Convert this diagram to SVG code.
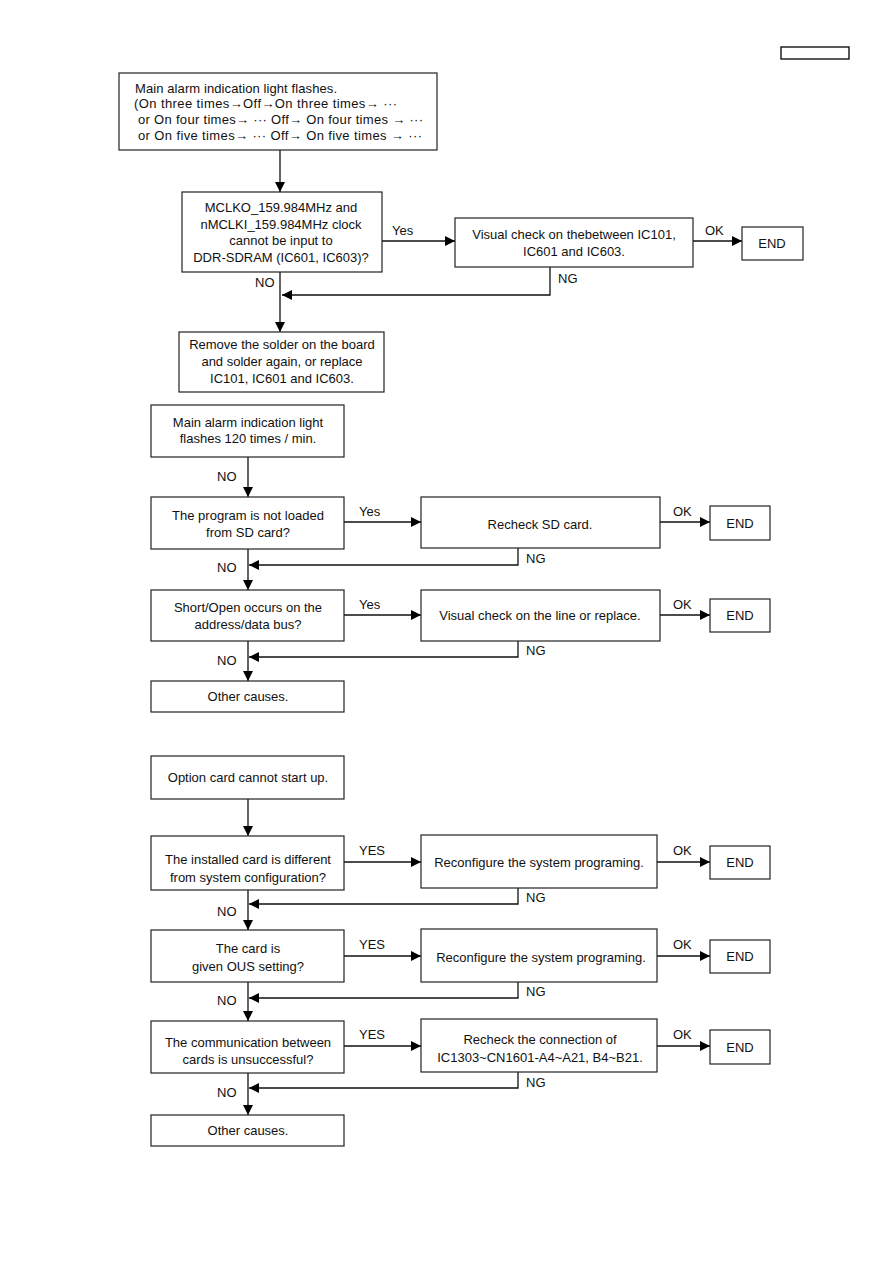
<svg xmlns="http://www.w3.org/2000/svg" width="893" height="1263" viewBox="0 0 893 1263">
<defs>
<marker id="ah" viewBox="0 0 10 10" refX="10" refY="5" markerWidth="10" markerHeight="10" markerUnits="userSpaceOnUse" orient="auto">
<path d="M0,0 L10,5 L0,10 z" fill="#000"/>
</marker>
</defs>
<style>
.b{fill:#fff;stroke:#222;stroke-width:1.2}
.t{font-family:"Liberation Sans",Arial,sans-serif;font-size:13px;fill:#111}
.m{text-anchor:middle}
.c{fill:none;stroke:#111;stroke-width:1.3}
.a{marker-end:url(#ah)}
</style>
<rect width="893" height="1263" fill="#fff"/>
<rect x="781" y="47" width="68" height="12" fill="none" stroke="#000" stroke-width="1.3"/>

<g id="connectors">
<path class="c a" d="M280,150 V192"/>
<path class="c a" d="M382,241 H455"/>
<path class="c a" d="M693,241 H742"/>
<path class="c a" d="M550,267 V295 H282"/>
<path class="c a" d="M280,272 V332"/>

<path class="c a" d="M248,457 V497"/>
<path class="c a" d="M344,522 H421"/>
<path class="c a" d="M660,522 H710"/>
<path class="c a" d="M518,548 V565 H249"/>
<path class="c a" d="M248,549 V590"/>
<path class="c a" d="M344,615 H421"/>
<path class="c a" d="M660,615 H710"/>
<path class="c a" d="M518,641 V657 H249"/>
<path class="c a" d="M248,641 V681"/>

<path class="c a" d="M248,799 V836"/>
<path class="c a" d="M344,862 H421"/>
<path class="c a" d="M657,862 H710"/>
<path class="c a" d="M518,888 V904 H249"/>
<path class="c a" d="M248,890 V930"/>
<path class="c a" d="M344,956 H421"/>
<path class="c a" d="M657,956 H710"/>
<path class="c a" d="M518,982 V998 H249"/>
<path class="c a" d="M248,982 V1021"/>
<path class="c a" d="M344,1046 H421"/>
<path class="c a" d="M657,1046 H710"/>
<path class="c a" d="M518,1072 V1088 H249"/>
<path class="c a" d="M248,1073 V1115"/>

<text class="t" x="392" y="235">Yes</text>
<text class="t" x="705" y="235">OK</text>
<text class="t" x="558" y="283">NG</text>
<text class="t" x="255" y="287">NO</text>

<text class="t" x="217" y="481">NO</text>
<text class="t" x="359" y="516">Yes</text>
<text class="t" x="673" y="516">OK</text>
<text class="t" x="526" y="563">NG</text>
<text class="t" x="217" y="572">NO</text>
<text class="t" x="359" y="609">Yes</text>
<text class="t" x="673" y="609">OK</text>
<text class="t" x="526" y="655">NG</text>
<text class="t" x="217" y="665">NO</text>

<text class="t" x="359" y="855">YES</text>
<text class="t" x="673" y="855">OK</text>
<text class="t" x="526" y="902">NG</text>
<text class="t" x="217" y="916">NO</text>
<text class="t" x="359" y="949">YES</text>
<text class="t" x="673" y="949">OK</text>
<text class="t" x="526" y="996">NG</text>
<text class="t" x="217" y="1005">NO</text>
<text class="t" x="359" y="1039">YES</text>
<text class="t" x="673" y="1039">OK</text>
<text class="t" x="526" y="1087">NG</text>
<text class="t" x="217" y="1097">NO</text>
</g>

<g id="n1"><rect class="b" x="119" y="73" width="318" height="77"/>
<text class="t" x="135" y="93" textLength="202" lengthAdjust="spacing">Main alarm indication light flashes.</text>
<text class="t" x="134" y="108" textLength="263" lengthAdjust="spacing">(On three times→Off→On three times→ ···</text>
<text class="t" x="138" y="124" textLength="285" lengthAdjust="spacing">or On four times→ ··· Off→ On four times → ···</text>
<text class="t" x="138" y="140" textLength="284" lengthAdjust="spacing">or On five times→ ··· Off→ On five times → ···</text></g>

<g id="n2"><rect class="b" x="182" y="192" width="200" height="80"/>
<text class="t m" x="281" y="212">MCLKO_159.984MHz and</text>
<text class="t m" x="281" y="229">nMCLKI_159.984MHz clock</text>
<text class="t m" x="281" y="245">cannot be input to</text>
<text class="t m" x="281" y="262">DDR-SDRAM (IC601, IC603)?</text></g>

<g id="n3"><rect class="b" x="455" y="218" width="238" height="49"/>
<text class="t m" x="574" y="239">Visual check on thebetween IC101,</text>
<text class="t m" x="574" y="256">IC601 and IC603.</text></g>

<g id="n4"><rect class="b" x="742" y="227" width="61" height="33"/>
<text class="t m" x="772" y="248">END</text></g>

<g id="n5"><rect class="b" x="179" y="332" width="205" height="60"/>
<text class="t m" x="282" y="349">Remove the solder on the board</text>
<text class="t m" x="282" y="366">and solder again, or replace</text>
<text class="t m" x="282" y="383">IC101, IC601 and IC603.</text></g>

<g id="n6"><rect class="b" x="151" y="405" width="193" height="52"/>
<text class="t m" x="248" y="427">Main alarm indication light</text>
<text class="t m" x="248" y="443">flashes 120 times / min.</text></g>

<g id="n7"><rect class="b" x="151" y="497" width="193" height="52"/>
<text class="t m" x="248" y="520">The program is not loaded</text>
<text class="t m" x="248" y="537">from SD card?</text></g>

<g id="n8"><rect class="b" x="421" y="497" width="239" height="51"/>
<text class="t m" x="540" y="529">Recheck SD card.</text></g>

<g id="n9"><rect class="b" x="710" y="506" width="60" height="34"/>
<text class="t m" x="740" y="528">END</text></g>

<g id="n10"><rect class="b" x="151" y="590" width="193" height="51"/>
<text class="t m" x="248" y="612">Short/Open occurs on the</text>
<text class="t m" x="248" y="629">address/data bus?</text></g>

<g id="n11"><rect class="b" x="421" y="590" width="239" height="51"/>
<text class="t m" x="540" y="620">Visual check on the line or replace.</text></g>

<g id="n12"><rect class="b" x="710" y="599" width="60" height="33"/>
<text class="t m" x="740" y="620">END</text></g>

<g id="n13"><rect class="b" x="151" y="681" width="193" height="31"/>
<text class="t m" x="248" y="701">Other causes.</text></g>

<g id="n14"><rect class="b" x="151" y="756" width="193" height="43"/>
<text class="t m" x="248" y="782">Option card cannot start up.</text></g>

<g id="n15"><rect class="b" x="151" y="836" width="193" height="54"/>
<text class="t m" x="248" y="864">The installed card is different</text>
<text class="t m" x="248" y="882">from system configuration?</text></g>

<g id="n16"><rect class="b" x="421" y="835" width="236" height="53"/>
<text class="t m" x="539" y="867">Reconfigure the system programing.</text></g>

<g id="n17"><rect class="b" x="710" y="846" width="60" height="33"/>
<text class="t m" x="740" y="867">END</text></g>

<g id="n18"><rect class="b" x="151" y="930" width="193" height="52"/>
<text class="t m" x="248" y="953">The card is</text>
<text class="t m" x="248" y="971">given OUS setting?</text></g>

<g id="n19"><rect class="b" x="421" y="929" width="236" height="53"/>
<text class="t m" x="541" y="962">Reconfigure the system programing.</text></g>

<g id="n20"><rect class="b" x="710" y="940" width="60" height="33"/>
<text class="t m" x="740" y="961">END</text></g>

<g id="n21"><rect class="b" x="151" y="1021" width="193" height="52"/>
<text class="t m" x="248" y="1047">The communication between</text>
<text class="t m" x="248" y="1064">cards is unsuccessful?</text></g>

<g id="n22"><rect class="b" x="421" y="1019" width="236" height="53"/>
<text class="t m" x="540" y="1044">Recheck the connection of</text>
<text class="t m" x="540" y="1062">IC1303~CN1601-A4~A21, B4~B21.</text></g>

<g id="n23"><rect class="b" x="710" y="1030" width="60" height="34"/>
<text class="t m" x="740" y="1052">END</text></g>

<g id="n24"><rect class="b" x="151" y="1115" width="193" height="31"/>
<text class="t m" x="248" y="1135">Other causes.</text></g>
</svg>
